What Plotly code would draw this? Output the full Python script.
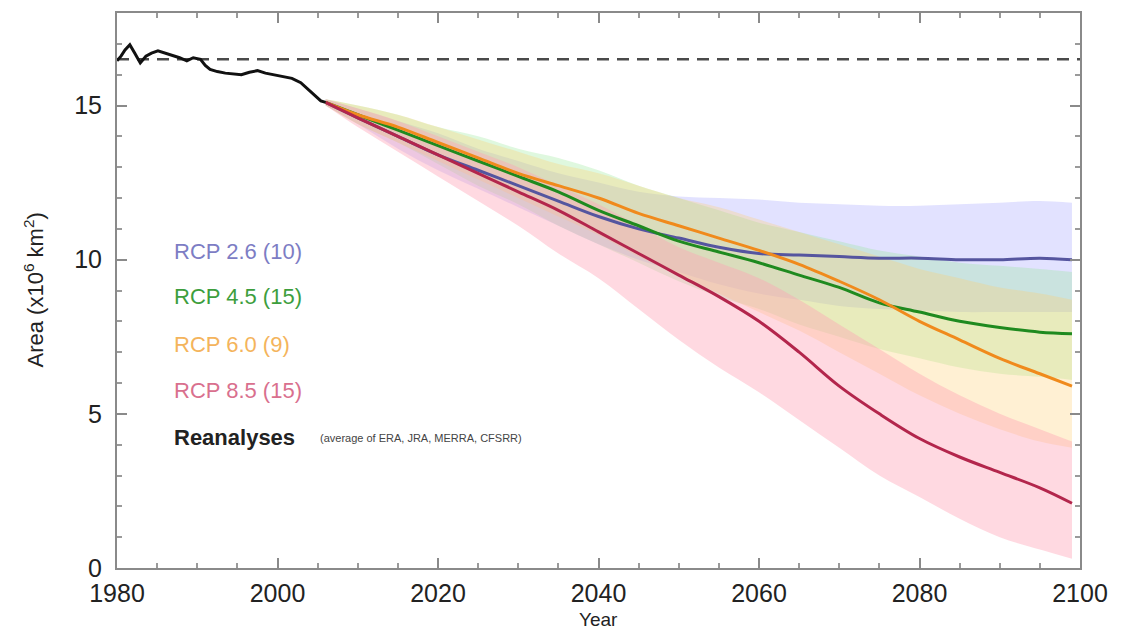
import plotly.graph_objects as go

# ---------------- data ----------------
re_years = [1980, 1980.5, 1981, 1981.6, 1982.2, 1982.9, 1983.6, 1984.3, 1985.1, 1986, 1987,
            1987.8, 1988.7, 1989.5, 1990.4, 1991, 1991.6, 1992.5, 1993.5, 1994.5, 1995.5,
            1996.5, 1997.5, 1998.5, 1999.5, 2000.8, 2001.8, 2002.9, 2003.7, 2004.5, 2005.4, 2006]
re_vals = [16.45, 16.6, 16.8, 16.97, 16.7, 16.38, 16.6, 16.7, 16.77, 16.7, 16.6,
           16.55, 16.45, 16.55, 16.5, 16.3, 16.17, 16.1, 16.05, 16.03, 16.0,
           16.08, 16.13, 16.05, 16.0, 15.95, 15.88, 15.74, 15.55, 15.35, 15.15, 15.1]

proj_years = [2006, 2010, 2015, 2020, 2025, 2030, 2035, 2040, 2045, 2050, 2055, 2060,
              2065, 2070, 2075, 2080, 2085, 2090, 2095, 2099]

rcp26_mean = [15.1, 14.6, 14.0, 13.4, 12.9, 12.4, 11.9, 11.4, 11.0, 10.7, 10.4, 10.2,
              10.15, 10.1, 10.05, 10.05, 10.0, 10.0, 10.05, 10.0]
rcp26_hi = [15.2, 14.9, 14.5, 14.1, 13.6, 13.2, 12.8, 12.5, 12.2, 12.05, 12.0, 11.95,
            11.85, 11.8, 11.75, 11.75, 11.8, 11.85, 11.9, 11.85]
rcp26_lo = [15.0, 14.4, 13.6, 12.9, 12.3, 11.7, 11.1, 10.5, 10.0, 9.6, 9.2, 8.9,
            8.7, 8.5, 8.4, 8.35, 8.3, 8.3, 8.3, 8.3]

rcp45_mean = [15.1, 14.7, 14.2, 13.7, 13.2, 12.7, 12.2, 11.6, 11.1, 10.6, 10.25, 9.9,
              9.5, 9.1, 8.6, 8.3, 8.0, 7.8, 7.65, 7.6]
rcp45_hi = [15.2, 15.0, 14.7, 14.3, 14.0, 13.6, 13.3, 12.9, 12.4, 12.0, 11.6, 11.2,
            10.9, 10.6, 10.3, 10.1, 9.9, 9.8, 9.7, 9.6]
rcp45_lo = [15.0, 14.4, 13.8, 13.1, 12.4, 11.8, 11.1, 10.5, 9.9, 9.3, 8.8, 8.4,
            7.9, 7.5, 7.1, 6.8, 6.5, 6.3, 6.2, 6.1]

rcp60_mean = [15.1, 14.7, 14.3, 13.8, 13.3, 12.8, 12.4, 12.0, 11.5, 11.1, 10.7, 10.3,
              9.85, 9.3, 8.7, 8.0, 7.4, 6.8, 6.3, 5.9]
rcp60_hi = [15.2, 15.0, 14.7, 14.3, 13.9, 13.5, 13.1, 12.8, 12.4, 12.0, 11.7, 11.3,
            10.9, 10.5, 10.1, 9.7, 9.4, 9.1, 8.9, 8.7]
rcp60_lo = [15.0, 14.4, 13.8, 13.2, 12.6, 12.0, 11.4, 10.8, 10.1, 9.5, 8.9, 8.3,
            7.7, 7.0, 6.3, 5.6, 5.0, 4.5, 4.1, 3.9]

rcp85_mean = [15.1, 14.6, 14.0, 13.4, 12.8, 12.2, 11.6, 10.9, 10.2, 9.5, 8.8, 8.0,
              7.0, 5.9, 5.0, 4.2, 3.6, 3.1, 2.6, 2.1]
rcp85_hi = [15.2, 14.9, 14.5, 14.0, 13.5, 13.0, 12.4, 11.8, 11.1, 10.4, 9.9, 9.4,
            8.7, 7.9, 7.1, 6.3, 5.6, 5.0, 4.5, 4.1]
rcp85_lo = [15.0, 14.3, 13.5, 12.7, 11.9, 11.1, 10.2, 9.4, 8.4, 7.4, 6.5, 5.7,
            4.8, 3.9, 3.0, 2.3, 1.6, 1.0, 0.6, 0.3]

reference_level = 16.5

labels = ["RCP 2.6 (10)", "RCP 4.5 (15)", "RCP 6.0 (9)", "RCP 8.5 (15)"]
label_y = [10.26, 8.8, 7.26, 5.77]

x_ticks = [1980, 2000, 2020, 2040, 2060, 2080, 2100]
y_ticks = [0, 5, 10, 15]

# ---------------- styles ----------------
scen = [
    (rcp26_mean, rcp26_lo, rcp26_hi, "#55559f", "rgba(150,150,255,0.28)", "#7d7dc4"),
    (rcp45_mean, rcp45_lo, rcp45_hi, "#1f8a1f", "rgba(140,230,140,0.28)", "#3d9e3d"),
    (rcp60_mean, rcp60_lo, rcp60_hi, "#f08a1c", "rgba(255,205,110,0.30)", "#f4b45c"),
    (rcp85_mean, rcp85_lo, rcp85_hi, "#b3264c", "rgba(255,160,180,0.40)", "#d9708e"),
]

fig = go.Figure()

for mean, lo, hi, lc, fc, tc in scen:
    fig.add_trace(go.Scatter(x=proj_years, y=hi, mode="lines", line=dict(width=0, shape="spline"),
                             hoverinfo="skip", showlegend=False))
    fig.add_trace(go.Scatter(x=proj_years, y=lo, mode="lines", line=dict(width=0, shape="spline"),
                             fill="tonexty", fillcolor=fc, hoverinfo="skip", showlegend=False))

for mean, lo, hi, lc, fc, tc in scen:
    fig.add_trace(go.Scatter(x=proj_years, y=mean, mode="lines",
                             line=dict(color=lc, width=3, shape="spline"), showlegend=False))

fig.add_trace(go.Scatter(x=[x_ticks[0], x_ticks[-1]], y=[reference_level, reference_level], mode="lines",
                         line=dict(color="#4a4a4a", width=2.5, dash="12px,8px"), showlegend=False))
fig.add_trace(go.Scatter(x=re_years, y=re_vals, mode="lines",
                         line=dict(color="#111111", width=3), showlegend=False))

annotations = []
for (mean, lo, hi, lc, fc, tc), txt, ly in zip(scen, labels, label_y):
    annotations.append(dict(x=1986.9, y=ly, xref="x", yref="y", text=txt, showarrow=False,
                            xanchor="left", yanchor="middle",
                            font=dict(family="Liberation Sans, Arial", size=22, color=tc)))
annotations.append(dict(x=1986.9, y=4.23, xref="x", yref="y", text="<b>Reanalyses</b>", showarrow=False,
                        xanchor="left", yanchor="middle",
                        font=dict(family="Liberation Sans, Arial", size=22, color="#222222")))
annotations.append(dict(x=2005.1, y=4.23, xref="x", yref="y", text="(average of ERA, JRA, MERRA, CFSRR)",
                        showarrow=False, xanchor="left", yanchor="middle",
                        font=dict(family="Liberation Sans, Arial", size=11, color="#444444")))
annotations.append(dict(x=0.5, y=0, xref="paper", yref="paper", text="Year", showarrow=False,
                        xanchor="center", yanchor="top", yshift=-39,
                        font=dict(family="Liberation Sans, Arial", size=19, color="#222222")))
annotations.append(dict(x=0, y=0.5, xref="paper", yref="paper", text="Area (x10<sup>6</sup> km<sup>2</sup>)",
                        showarrow=False, xanchor="center", yanchor="middle", xshift=-84, textangle=-90,
                        font=dict(family="Liberation Sans, Arial", size=22, color="#222222")))

axis_common = dict(showgrid=False, zeroline=False, showline=True, linecolor="#8a8a8a", linewidth=2,
                   mirror="allticks", ticks="inside", ticklen=10, tickwidth=2, tickcolor="#8a8a8a",
                   tickfont=dict(family="Liberation Sans, Arial", size=25, color="#222222"))

fig.update_layout(
    width=1129, height=630,
    margin=dict(l=117, r=49, t=13, b=62),
    paper_bgcolor="white", plot_bgcolor="white",
    xaxis=dict(range=[x_ticks[0], x_ticks[-1]], tickvals=x_ticks,
               minor=dict(dtick=5, ticks="inside", ticklen=5, tickcolor="#9a9a9a", tickwidth=1.5),
               ticklabelstandoff=2, **axis_common),
    yaxis=dict(range=[0, 18], tickvals=y_ticks,
               minor=dict(dtick=1, ticks="inside", ticklen=5, tickcolor="#9a9a9a", tickwidth=1.5),
               ticklabelstandoff=8, **axis_common),
    annotations=annotations,
    showlegend=False,
)

fig.write_html("out.html")
